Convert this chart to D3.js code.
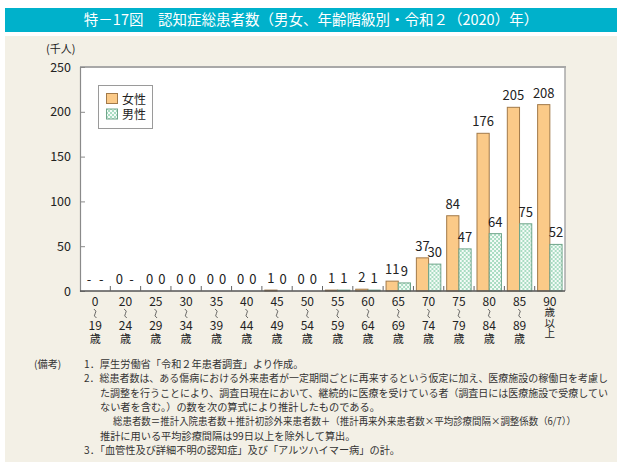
<!DOCTYPE html>
<html><head><meta charset="utf-8">
<script src="https://cdn.jsdelivr.net/npm/d3@7"></script>
<style>
body{margin:0;background:#fff;}
svg{display:block;font-family:"Noto Sans CJK JP","Noto Sans",sans-serif;}
</style></head>
<body>
<svg id="c" width="622" height="471"></svg>
<script>
const categories = ["0-19","20-24","25-29","30-34","35-39","40-44","45-49","50-54","55-59","60-64","65-69","70-74","75-79","80-84","85-89","90+"];
const catTop = ["0","20","25","30","35","40","45","50","55","60","65","70","75","80","85","90"];
const catBottom = ["19","24","29","34","39","44","49","54","59","64","69","74","79","84","89",null];
const female = [null,0,0,0,0,0,1,0,1,2,11,37,84,176,205,208];
const male = [null,null,0,0,0,0,0,0,1,1,9,30,47,64,75,52];
const series = ["女性","男性"];
const yTicks = [0,50,100,150,200,250];
const title = "特－17図　認知症総患者数（男女、年齢階級別・令和２（2020）年）";
const notes = [
  {t:"(備考)", x:34, dy:0},
  {t:"1．厚生労働省「令和２年患者調査」より作成。", x:84, dy:0},
  {t:"2．総患者数は、ある傷病における外来患者が一定期間ごとに再来するという仮定に加え、医療施設の稼働日を考慮し", x:84, dy:1, w:524},
  {t:"た調整を行うことにより、調査日現在において、継続的に医療を受けている者（調査日には医療施設で受療してい", x:100, dy:2, w:508},
  {t:"ない者を含む。）の数を次の算式により推計したものである。", x:100, dy:3},
  {t:"総患者数＝推計入院患者数＋推計初診外来患者数＋（推計再来外来患者数×平均診療間隔×調整係数（6/7））", x:113, dy:4, w:463},
  {t:"推計に用いる平均診療間隔は99日以上を除外して算出。", x:100, dy:5},
  {t:"3．「血管性及び詳細不明の認知症」及び「アルツハイマー病」の計。", x:84, dy:6}
];

const svg = d3.select("#c");
svg.append("rect").attr("x",5).attr("y",8).attr("width",612).attr("height",24).attr("fill","#00b1cb");
svg.append("text").attr("x",311).attr("y",25).attr("text-anchor","middle").attr("fill","#fff")
  .attr("font-size",14.5).text(title);
svg.append("rect").attr("x",5).attr("y",36).attr("width",612).attr("height",426).attr("fill","#f3f0e6");

const L=80, R=565, T=67, B=291;
const x = d3.scaleBand().domain(categories).range([L,R]);
const xs = d3.scaleBand().domain(series).range([0,x.bandwidth()]).paddingOuter(0.24);
const y = d3.scaleLinear().domain([0,250]).range([B,T]);

const defs = svg.append("defs");
const pat = defs.append("pattern").attr("id","chk").attr("patternUnits","userSpaceOnUse").attr("width",4).attr("height",4);
pat.append("rect").attr("width",4).attr("height",4).attr("fill","#a9dcc2");
pat.append("rect").attr("x",0).attr("y",0).attr("width",2).attr("height",2).attr("fill","#f4fbf7");
pat.append("rect").attr("x",2).attr("y",2).attr("width",2).attr("height",2).attr("fill","#f4fbf7");

svg.append("rect").attr("x",L).attr("y",T).attr("width",R-L).attr("height",B-T).attr("fill","#fff");
svg.append("line").attr("x1",L).attr("x2",R+1).attr("y1",T).attr("y2",T).attr("stroke","#a8a8a8").attr("stroke-width",2);
svg.append("line").attr("x1",R).attr("x2",R).attr("y1",T).attr("y2",B).attr("stroke","#a8a8a8").attr("stroke-width",1.5);

const ya = svg.append("g").attr("transform",`translate(${L},0)`)
  .call(d3.axisLeft(y).tickValues(yTicks).tickSize(-5).tickPadding(9).tickFormat(d3.format("d")));
ya.select(".domain").attr("stroke","#8a8a8a").attr("stroke-width",1.2);
ya.selectAll(".tick line").attr("stroke","#8a8a8a");
ya.selectAll("text").attr("font-size",12.5).attr("fill","#222").attr("font-family","Noto Sans CJK JP");
svg.append("text").attr("x",46).attr("y",53).attr("font-size",11).attr("fill","#222").text("(千人)");

const groups = svg.append("g").selectAll("g").data(categories).join("g")
  .attr("transform",d=>`translate(${x(d)},0)`);
const bw = xs.bandwidth();
groups.append("rect").attr("x",xs("女性")).attr("width",bw)
  .attr("y",(d,i)=>y(female[i]||0)).attr("height",(d,i)=>female[i]?B-y(female[i]):0)
  .attr("fill","#fbca88").attr("stroke","#a27a4a").attr("stroke-width",1);
groups.append("rect").attr("x",xs("男性")).attr("width",bw)
  .attr("y",(d,i)=>y(male[i]||0)).attr("height",(d,i)=>male[i]?B-y(male[i]):0)
  .attr("fill","url(#chk)").attr("stroke","#6fa58a").attr("stroke-width",1);
groups.append("text").attr("x",xs("女性")+bw/2).attr("y",(d,i)=>y(female[i]||0)-7)
  .attr("text-anchor","middle").attr("font-size",13).attr("fill","#222")
  .text((d,i)=>female[i]==null?"-":female[i]);
groups.append("text").attr("x",xs("男性")+bw/2).attr("y",(d,i)=>y(male[i]||0)-7)
  .attr("text-anchor","middle").attr("font-size",13).attr("fill","#222")
  .text((d,i)=>male[i]==null?"-":male[i]);

const xa = svg.append("g").attr("transform",`translate(0,${B})`);
xa.append("line").attr("x1",L).attr("x2",R).attr("stroke","#555").attr("stroke-width",1.5);
xa.selectAll("line.t").data(categories.slice(1)).join("line").attr("class","t")
  .attr("x1",d=>x(d)).attr("x2",d=>x(d)).attr("y1",0).attr("y2",-5).attr("stroke","#666");
const xl = svg.append("g").selectAll("g").data(categories).join("g")
  .attr("transform",d=>`translate(${x(d)+x.bandwidth()/2},0)`)
  .attr("fill","#222").attr("text-anchor","middle");
xl.each(function(d,i){
  const g=d3.select(this);
  g.append("text").attr("y",306).attr("font-size",12).text(catTop[i]);
  if(catBottom[i]!=null){
    g.append("path").attr("d","M-1.3,-4.5 Q2.2,-2.5 0,0 Q-2.2,2.5 1.3,4.5").attr("transform","translate(0,313.5)")
      .attr("fill","none").attr("stroke","#444").attr("stroke-width",0.8);
    g.append("text").attr("y",330).attr("font-size",12).text(catBottom[i]);
    g.append("text").attr("y",343).attr("font-size",11).text("歳");
  } else {
    g.append("text").attr("x",0).attr("y",307).attr("font-size",10.5)
      .attr("writing-mode","vertical-rl").attr("text-anchor","start").text("歳以上");
  }
});

const lg = svg.append("g");
lg.append("rect").attr("x",98.5).attr("y",85.5).attr("width",54).attr("height",43).attr("fill","#fff").attr("stroke","#9a9a9a");
series.forEach((s,i)=>{
  lg.append("rect").attr("x",106.5).attr("y",93.5+i*15.5).attr("width",11).attr("height",10)
    .attr("fill",i?"url(#chk)":"#fbca88").attr("stroke",i?"#6fa58a":"#a27a4a");
  lg.append("text").attr("x",122).attr("y",103.5+i*15.5).attr("font-size",12).attr("fill","#222").text(s);
});

const ng = svg.append("g").attr("font-size",10.2).attr("fill","#333");
notes.forEach(n=>{
  const t=ng.append("text").attr("x",n.x).attr("y",368+n.dy*14.3).text(n.t);
  if(n.w) t.attr("font-size",9.8).attr("textLength",n.w).attr("lengthAdjust","spacingAndGlyphs");
});
</script>
</body></html>
